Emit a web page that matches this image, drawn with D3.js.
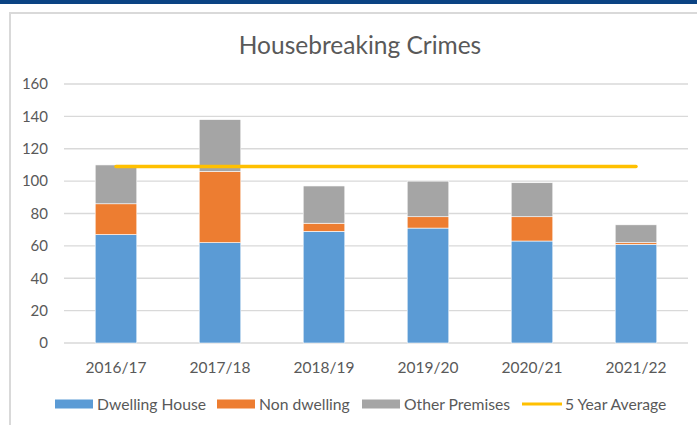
<!DOCTYPE html>
<html>
<head>
<meta charset="utf-8">
<script src="https://cdn.jsdelivr.net/npm/d3@7/dist/d3.min.js"></script>
<style>
  body { margin: 0; background: #fff; }
  svg { display: block; font-family: Lato, "Open Sans", sans-serif; }
</style>
</head>
<body>
<div id="chart"></div>
<script>
// DATA
var years = ["2016/17", "2017/18", "2018/19", "2019/20", "2020/21", "2021/22"];
var dwellingHouse = [67, 62, 69, 71, 63, 61];
var nonDwelling = [19, 44, 5, 7, 15, 1];
var otherPremises = [24, 32, 23, 22, 21, 11];
var fiveYearAverage = [109, 109, 109, 109, 109, 109];
var yTicks = [0, 20, 40, 60, 80, 100, 120, 140, 160];
var seriesNames = ["Dwelling House", "Non dwelling", "Other Premises", "5 Year Average"];
var colors = ["#5b9bd5", "#ed7d31", "#a5a5a5", "#ffc000"];

var W = 697, H = 425;
var plot = { left: 64, right: 688, top: 84, bottom: 343 };

var svg = d3.select("#chart").append("svg")
    .attr("width", W)
    .attr("height", H);

// top banner + chart frame
svg.append("rect").attr("x", 0).attr("y", 0).attr("width", W).attr("height", 4).attr("fill", "#0b4383");
svg.append("rect").attr("x", 10).attr("y", 13).attr("width", W + 20).attr("height", H + 20)
    .attr("fill", "#fff").attr("stroke", "#d9d9d9").attr("stroke-width", 2);

svg.append("text")
    .attr("x", 360).attr("y", 54)
    .attr("text-anchor", "middle")
    .attr("font-size", 24.5)
    .attr("fill", "#595959")
    .text("Housebreaking Crimes");

var x = d3.scaleBand().domain(years).range([plot.left, plot.right]).paddingInner(0.6).paddingOuter(0.3);
var y = d3.scaleLinear().domain([0, 160]).range([plot.bottom, plot.top]);

// gridlines
svg.append("g").selectAll("line")
    .data(yTicks)
    .enter().append("line")
    .attr("x1", plot.left).attr("x2", plot.right)
    .attr("y1", function(d) { return y(d); })
    .attr("y2", function(d) { return y(d); })
    .attr("stroke", "#d9d9d9")
    .attr("stroke-width", 1.3);

// y axis labels
var yAxis = svg.append("g")
    .attr("transform", "translate(" + (plot.left - 16) + ",0)")
    .call(d3.axisLeft(y).tickValues(yTicks).tickSize(0).tickPadding(0));
yAxis.select(".domain").remove();
yAxis.selectAll("text").attr("font-size", 15).attr("fill", "#595959").attr("font-family", "Lato, sans-serif");

// x axis labels
var xAxis = svg.append("g")
    .attr("transform", "translate(0," + plot.bottom + ")")
    .call(d3.axisBottom(x).tickSize(0).tickPadding(19));
xAxis.select(".domain").remove();
xAxis.selectAll("text").attr("font-size", 15.5).attr("fill", "#595959").attr("font-family", "Lato, sans-serif");

// stacked bars
var table = years.map(function(yr, i) {
    return { year: yr, dwelling: dwellingHouse[i], non: nonDwelling[i], other: otherPremises[i] };
});
var stack = d3.stack().keys(["dwelling", "non", "other"]);
var layers = stack(table);

svg.append("g").selectAll("g")
    .data(layers)
    .enter().append("g")
    .attr("fill", function(d, i) { return colors[i]; })
    .selectAll("rect")
    .data(function(d) { return d; })
    .enter().append("rect")
    .attr("x", function(d) { return x(d.data.year); })
    .attr("width", x.bandwidth())
    .attr("y", function(d) { return y(d[1]); })
    .attr("height", function(d) { return y(d[0]) - y(d[1]); })
    .attr("stroke", "#fff")
    .attr("stroke-width", 0.6);

// 5 year average line
var line = d3.line()
    .x(function(d, i) { return x(years[i]) + x.bandwidth() / 2; })
    .y(function(d) { return y(d); });
svg.append("path")
    .datum(fiveYearAverage)
    .attr("d", line)
    .attr("fill", "none")
    .attr("stroke", colors[3])
    .attr("stroke-width", 3.5)
    .attr("stroke-linecap", "round");

// legend
var legendX = [55, 217, 362, 522];
var legend = svg.append("g").selectAll("g")
    .data(seriesNames)
    .enter().append("g")
    .attr("transform", function(d, i) { return "translate(" + legendX[i] + ",404)"; });
legend.append("rect")
    .attr("x", 0).attr("y", function(d, i) { return i < 3 ? -4.5 : -1.5; })
    .attr("width", function(d, i) { return i < 3 ? 38 : 40; })
    .attr("height", function(d, i) { return i < 3 ? 9 : 3; })
    .attr("fill", function(d, i) { return colors[i]; });
legend.append("text")
    .attr("x", function(d, i) { return i < 3 ? 42 : 43; })
    .attr("y", 5.5)
    .attr("font-size", 15.7)
    .attr("fill", "#595959")
    .text(function(d) { return d; });
</script>
</body>
</html>
